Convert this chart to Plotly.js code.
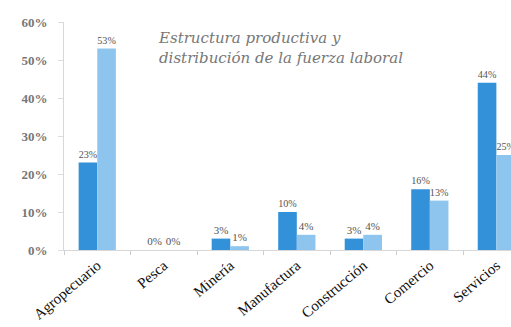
<!DOCTYPE html>
<html>
<head>
<meta charset="utf-8">
<script src="https://cdn.plot.ly/plotly-3.0.1.min.js"></script>
<style>html,body{margin:0;padding:0;background:#fff;}#chart{width:511px;height:327px;}</style>
</head>
<body>
<div id="chart"></div>
<script>
const categories = ["Agropecuario", "Pesca", "Minería", "Manufactura", "Construcción", "Comercio", "Servicios"];
const produccion = [23, 0, 3, 10, 3, 16, 44];
const empleo = [53, 0, 1, 4, 4, 13, 25];
const yTicks = [0, 10, 20, 30, 40, 50, 60];
const yTickLabels = ["0%", "10%", "20%", "30%", "40%", "50%", "60%"];
const titleText = "Estructura productiva y<br>distribución de la fuerza laboral";

const labelFont = {family: "Liberation Serif, serif", size: 11, color: "#555"};
const traces = [
  {type: "bar", x: categories, y: produccion, name: "Producción",
   marker: {color: "#3391d9"}, text: produccion.map(v => v + "%"), textposition: "outside",
   textfont: labelFont, cliponaxis: false, hoverinfo: "none"},
  {type: "bar", x: categories, y: empleo, name: "Empleo",
   marker: {color: "#8ec5ef"}, text: empleo.map(v => v + "%"), textposition: "outside",
   textfont: labelFont, cliponaxis: false, hoverinfo: "none"}
];
const layout = {
  width: 511, height: 327,
  margin: {l: 64, r: 0, t: 22, b: 77},
  paper_bgcolor: "#fff", plot_bgcolor: "#fff",
  showlegend: false,
  barmode: "group", bargap: 0.44, bargroupgap: 0,
  xaxis: {type: "category", range: [-0.5, 6.22], tickangle: -40,
    tickfont: {family: "Liberation Serif, serif", size: 15, color: "#111"},
    showline: true, linecolor: "#d8d8d8", linewidth: 1,
    ticks: "outside", tickson: "boundaries", ticklen: 4, tickcolor: "#ccc",
    showgrid: false, zeroline: false},
  yaxis: {range: [0, 60], tickvals: yTicks, ticktext: yTickLabels,
    tickfont: {family: "Liberation Serif, serif", size: 13, color: "#777", weight: "bold"},
    showline: true, linecolor: "#d8d8d8", linewidth: 1,
    ticks: "outside", ticklen: 5, tickcolor: "#ddd", ticklabelstandoff: 8,
    showgrid: false, zeroline: false},
  annotations: [{text: titleText, xref: "paper", yref: "paper",
    x: 0.205, y: 0.98, xanchor: "left", yanchor: "top", align: "left",
    showarrow: false,
    font: {family: "DejaVu Serif, serif", size: 15, color: "#777", style: "italic"}}]
};
Plotly.newPlot("chart", traces, layout, {displayModeBar: false, staticPlot: true});
</script>
</body>
</html>
